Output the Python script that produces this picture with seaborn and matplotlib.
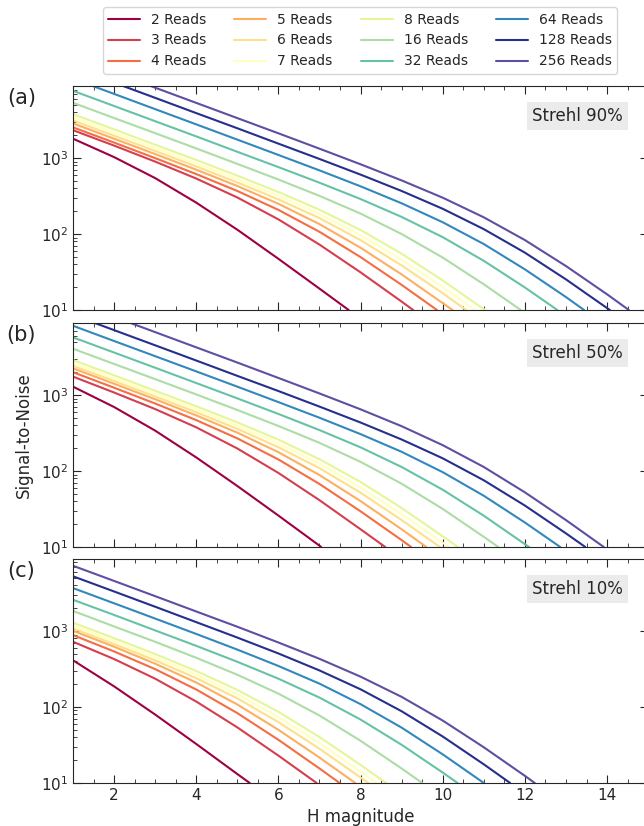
import pandas as pd
import numpy as np
import matplotlib
matplotlib.use("Agg")
import matplotlib.pyplot as plt
from matplotlib.ticker import MultipleLocator, LogLocator, NullFormatter
import seaborn as sns

# magnitude grid (H) shared by every curve; each curve also gets its own end point where SNR = 10
mags = [1, 2, 3, 4, 5, 6, 7, 8, 9, 10, 11, 12, 13, 14]
reads = [2, 3, 4, 5, 6, 7, 8, 16, 32, 64, 128, 256]
colors = ["#9e0142", "#d53e4f", "#f46d43", "#fdae61", "#fee08b", "#ffffbf",
          "#e6f598", "#abdda4", "#66c2a5", "#3288bd", "#262f8c", "#5e4fa2"]

# Strehl 90%
snr_a = {
    2: [1800, 1030, 545, 259, 114, 47.2, 19.1],
    3: [2330, 1460, 899, 538, 303, 156, 72.6, 31.3, 12.9],
    4: [2540, 1600, 999, 616, 369, 208, 107, 49.7, 21.4],
    5: [2860, 1800, 1130, 703, 429, 250, 135, 66.0, 29.4, 12.3],
    6: [3130, 1970, 1240, 776, 478, 286, 162, 83.1, 38.6, 16.6],
    7: [3430, 2160, 1360, 851, 527, 319, 183, 96.6, 46.0, 20.1],
    8: [3790, 2390, 1500, 944, 587, 358, 209, 113, 55.1, 24.5],
    16: [5350, 3370, 2130, 1340, 839, 522, 318, 186, 100, 49.0, 21.8],
    32: [7690, 4850, 3060, 1930, 1210, 761, 474, 289, 168, 91.0, 44.4, 19.8],
    64: [11100, 7000, 4410, 2780, 1750, 1100, 689, 425, 254, 143, 73.8, 34.3, 14.8],
    128: [15600, 9840, 6210, 3910, 2470, 1550, 974, 606, 369, 215, 116, 56.9, 25.3, 10.6],
    256: [21200, 13400, 8450, 5330, 3360, 2120, 1330, 829, 508, 301, 166, 83.3, 37.9, 16.1],
}
end_a = {2: 7.71, 3: 9.28, 4: 9.86, 5: 10.24, 6: 10.57, 7: 10.78, 8: 11.03,
         16: 11.90, 32: 12.79, 64: 13.44, 128: 14.07, 256: 14.53}

# Strehl 50%
snr_b = {
    2: [1290, 696, 340, 151, 63.5, 25.9, 10.4],
    3: [1750, 1080, 654, 376, 198, 94.3, 41.3, 17.1],
    4: [2000, 1250, 774, 468, 269, 142, 67.5, 29.5, 12.3],
    5: [2250, 1410, 881, 540, 320, 177, 88.5, 40.2, 17.1],
    6: [2430, 1530, 958, 594, 359, 206, 109, 51.8, 22.6],
    7: [2640, 1660, 1040, 649, 395, 231, 125, 60.9, 27.1, 11.4],
    8: [2890, 1820, 1140, 713, 437, 259, 143, 71.7, 32.6, 13.8],
    16: [4070, 2570, 1620, 1020, 636, 392, 235, 132, 68.1, 31.7, 13.6],
    32: [5750, 3630, 2290, 1440, 905, 564, 346, 205, 113, 56.7, 25.8, 10.9],
    64: [8170, 5150, 3250, 2050, 1290, 808, 503, 306, 179, 96.6, 47.2, 21.0],
    128: [11350, 7160, 4520, 2850, 1790, 1130, 705, 435, 260, 147, 75.5, 35.1, 15.1],
    256: [16900, 10700, 6740, 4250, 2680, 1680, 1050, 649, 389, 219, 113, 52.4, 22.6],
}
end_b = {2: 7.04, 3: 8.60, 4: 9.23, 5: 9.60, 6: 9.93, 7: 10.15, 8: 10.37,
         16: 11.35, 32: 12.10, 64: 12.86, 128: 13.47, 256: 13.92}

# Strehl 10%
snr_c = {
    2: [412, 187, 79.5, 32.6, 13.1],
    3: [723, 428, 236, 118, 53.9, 22.9],
    4: [885, 539, 315, 170, 83.1, 37.0, 15.5],
    5: [1010, 622, 372, 210, 108, 50.1, 21.6],
    6: [1080, 674, 411, 240, 130, 63.2, 28.2, 11.8],
    7: [1180, 734, 450, 267, 147, 73.8, 33.5, 14.2],
    8: [1290, 807, 498, 298, 168, 86.4, 40.2, 17.3],
    16: [1840, 1150, 722, 445, 266, 150, 77.3, 35.9, 15.5],
    32: [2580, 1630, 1020, 639, 394, 236, 133, 68.4, 31.8, 13.7],
    64: [3680, 2320, 1460, 916, 570, 347, 203, 109, 53.5, 23.8],
    128: [5260, 3320, 2090, 1310, 821, 507, 303, 171, 87.9, 40.9, 17.6],
    256: [7240, 4570, 2880, 1810, 1140, 707, 431, 251, 136, 66.3, 29.5, 12.4],
}
end_c = {2: 5.30, 3: 6.93, 4: 7.49, 5: 7.87, 6: 8.19, 7: 8.40, 8: 8.62,
         16: 9.50, 32: 10.36, 64: 11.00, 128: 11.64, 256: 12.24}

panels = [("(a)", "Strehl 90%", snr_a, end_a),
          ("(b)", "Strehl 50%", snr_b, end_b),
          ("(c)", "Strehl 10%", snr_c, end_c)]

sns.set_style("ticks", {"xtick.direction": "in", "ytick.direction": "in"})
plt.rcParams['font.family'] = ['DejaVu Sans']

labels = [f"{r} Reads" for r in reads]
palette = dict(zip(labels, colors))

fig = plt.figure(figsize=(6.44, 8.26), dpi=100)
bottoms = [0.6247, 0.3378, 0.0521]
axes = []
for i, (tag, strehl, snr, ends) in enumerate(panels):
    ax = fig.add_axes([0.1134, bottoms[i], 0.893, 0.2712])
    rows = []
    for r in reads:
        vals = snr[r]
        for h, v in zip(mags[:len(vals)], vals):
            rows.append({"H": h, "SNR": v, "Reads": f"{r} Reads"})
        rows.append({"H": ends[r], "SNR": 10, "Reads": f"{r} Reads"})
    df = pd.DataFrame(rows)

    sns.lineplot(data=df, x="H", y="SNR", hue="Reads", hue_order=labels,
                 palette=palette, estimator=None, sort=False, lw=1.5, ax=ax,
                 legend=(i == 0))
    ax.set_yscale("log")
    ax.set_xlim(1, 15)
    ax.set_ylim(10, 8900)
    ax.xaxis.set_major_locator(MultipleLocator(2))
    ax.xaxis.set_minor_locator(MultipleLocator(0.5))
    ax.yaxis.set_major_locator(LogLocator(base=10))
    ax.yaxis.set_minor_locator(LogLocator(base=10, subs=np.arange(2, 10)))
    ax.yaxis.set_minor_formatter(NullFormatter())
    ax.tick_params(which="both", direction="in", top=True, right=True, labelsize=11)
    ax.tick_params(which="major", length=6)
    ax.tick_params(which="minor", length=3)
    ax.set_xlabel("")
    ax.set_ylabel("")
    if i < 2:
        ax.tick_params(labelbottom=False)

    ax.text(-0.09, 0.946, tag, transform=ax.transAxes, fontsize=15,
            ha="center", va="center")
    ax.text(0.877, 0.868, strehl, transform=ax.transAxes, fontsize=12,
            ha="center", va="center",
            bbox=dict(boxstyle="square,pad=0.3", fc="#ebebeb", ec="none"))
    axes.append(ax)

axes[1].set_ylabel("Signal-to-Noise", fontsize=12, labelpad=6)
axes[2].set_xlabel("H magnitude", fontsize=12)

handles, labs = axes[0].get_legend_handles_labels()
axes[0].get_legend().remove()
fig.legend(handles, labs, loc="upper center", ncol=4, fontsize=10,
           bbox_to_anchor=(0.559, 1.0), handlelength=2.3, frameon=True)

fig.savefig("out.png", dpi=100)
